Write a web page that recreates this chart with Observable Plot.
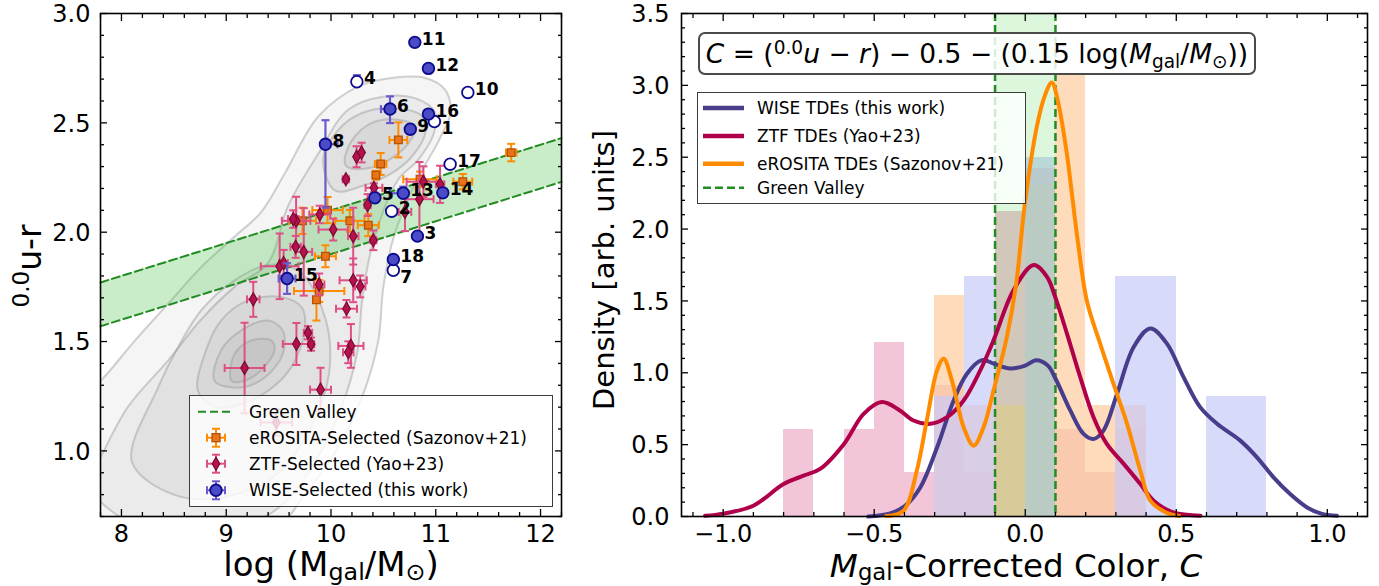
<!DOCTYPE html>
<html>
<head>
<meta charset="utf-8">
<script src="https://cdn.jsdelivr.net/npm/d3@7"></script>
<script src="https://cdn.jsdelivr.net/npm/@observablehq/plot@0.6"></script>
<style>
  html, body { margin: 0; padding: 0; background: #fff; }
  #fig { position: relative; width: 1379px; height: 586px; overflow: hidden;
         font-family: "DejaVu Sans", sans-serif; color: #000; }
  #left, #right { position: absolute; top: 0; }
  #left { left: 0; } #right { left: 580px; }
  .txt { position: absolute; white-space: nowrap; line-height: 1; }
  .txt sub { font-size: 0.7em; vertical-align: -0.15em; line-height: 0; }
  .txt sup { font-size: 0.7em; vertical-align: 0.5em; line-height: 0; }
  .xlab { line-height: 0.5; }
  .legend { position: absolute; box-sizing: border-box; background: rgba(255,255,255,0.8);
            border: 1px solid #3c3c3c; }
  .legend svg { position: absolute; left: 0; top: 0; }
  .legend .row { position: absolute; font-size: 17px; white-space: nowrap; line-height: 1;
                 transform: translateY(-50%); }
  #formula { position: absolute; left: 698px; top: 32px; width: 558px; height: 43px; box-sizing: border-box;
             border: 2px solid #4a4a4a; border-radius: 7px; background: rgba(255,255,255,0.85);
             font-size: 26.5px; line-height: 39px; text-align: center; white-space: nowrap; }
  #formula sub { font-size: 0.7em; vertical-align: -0.28em; line-height: 0; }
  #formula sup { font-size: 0.7em; vertical-align: 0.5em; line-height: 0; }
</style>
</head>
<body>
<div id="fig">
  <div id="left"></div>
  <div id="right"></div>

  <div class="txt xlab" style="left:331px; top:556px; font-size:34px; transform:translateX(-50%);">log (M<sub>gal</sub>/M<sub>&#x2299;</sub>)</div>
  <div class="txt" style="left:29px; top:266px; font-size:33px; transform:translate(-50%,-50%) rotate(-90deg);"><sup>0.0</sup>u-r</div>
  <div class="txt xlab" style="left:1016px; top:557.5px; font-size:32.5px; transform:translateX(-50%);"><i>M</i><sub>gal</sub>-Corrected Color, <i>C</i></div>
  <div class="txt" style="left:604px; top:270px; font-size:29px; transform:translate(-50%,-50%) rotate(-90deg);">Density [arb. units]</div>

  <div id="formula"><i>C</i> = (<sup>0.0</sup><i>u</i> &#x2212; <i>r</i>) &#x2212; 0.5 &#x2212; (0.15 log(<i>M</i><sub>gal</sub>/<i>M</i><sub>&#x2299;</sub>))</div>

  <div class="legend" id="legL" style="left:189px; top:395px; width:364px; height:112px;">
    <svg width="60" height="112">
      <line x1="8" x2="44" y1="15.7" y2="15.7" stroke="#228b22" stroke-width="2" stroke-dasharray="8,4"/>
      <g stroke="#ff8c00" stroke-width="2">
        <line x1="17" x2="35" y1="41.7" y2="41.7"/><line x1="26" x2="26" y1="32.7" y2="50.7"/>
        <line x1="17" x2="17" y1="37.7" y2="45.7"/><line x1="35" x2="35" y1="37.7" y2="45.7"/>
        <line x1="22" x2="30" y1="32.7" y2="32.7"/><line x1="22" x2="30" y1="50.7" y2="50.7"/>
      </g>
      <rect x="22" y="37.7" width="8" height="8" fill="#e8731a" stroke="#b35400" stroke-width="1.3"/>
      <g stroke="#de4f86" stroke-width="2">
        <line x1="17" x2="35" y1="67.7" y2="67.7"/><line x1="26" x2="26" y1="58.7" y2="76.7"/>
        <line x1="17" x2="17" y1="63.7" y2="71.7"/><line x1="35" x2="35" y1="63.7" y2="71.7"/>
        <line x1="22" x2="30" y1="58.7" y2="58.7"/><line x1="22" x2="30" y1="76.7" y2="76.7"/>
      </g>
      <path d="M26,61.2 L29.8,67.7 L26,74.2 L22.2,67.7 Z" fill="#b3124e" stroke="#7d0833" stroke-width="1.2"/>
      <g stroke="#6a5acd" stroke-width="2">
        <line x1="17" x2="35" y1="94.3" y2="94.3"/><line x1="26" x2="26" y1="85.3" y2="103.3"/>
        <line x1="17" x2="17" y1="90.3" y2="98.3"/><line x1="35" x2="35" y1="90.3" y2="98.3"/>
        <line x1="22" x2="30" y1="85.3" y2="85.3"/><line x1="22" x2="30" y1="103.3" y2="103.3"/>
      </g>
      <circle cx="26" cy="94.3" r="5.8" fill="#4b4bc8" stroke="#0b0b8c" stroke-width="1.8"/>
    </svg>
    <div class="row" style="left:59px; top:15.7px;">Green Valley</div>
    <div class="row" style="left:59px; top:41.7px;">eROSITA-Selected (Sazonov+21)</div>
    <div class="row" style="left:59px; top:67.7px;">ZTF-Selected (Yao+23)</div>
    <div class="row" style="left:59px; top:94.3px;">WISE-Selected (this work)</div>
  </div>

  <div class="legend" id="legR" style="left:697px; top:92px; width:329px; height:112px;">
    <svg width="60" height="112">
      <line x1="5" x2="46" y1="15" y2="15" stroke="#483d8b" stroke-width="4.5"/>
      <line x1="5" x2="46" y1="43" y2="43" stroke="#b0004a" stroke-width="4.5"/>
      <line x1="5" x2="46" y1="70.7" y2="70.7" stroke="#ff8c00" stroke-width="4.5"/>
      <line x1="5" x2="46" y1="94.7" y2="94.7" stroke="#228b22" stroke-width="2.5" stroke-dasharray="8,4"/>
    </svg>
    <div class="row" style="left:59px; top:15px;">WISE TDEs (this work)</div>
    <div class="row" style="left:59px; top:43px;">ZTF TDEs (Yao+23)</div>
    <div class="row" style="left:59px; top:70.7px;">eROSITA TDEs (Sazonov+21)</div>
    <div class="row" style="left:59px; top:94.7px;">Green Valley</div>
  </div>
</div>

<script>
// ---------------- Left panel: host colour vs. stellar mass ----------------

// WISE-selected TDE hosts (this work); open symbols are not in the colour histogram
const wiseId      = [1, 2, 3, 4, 5, 6, 7, 8, 9, 10, 11, 12, 13, 14, 15, 16, 17, 18];
const wiseMass    = [10.987, 10.579, 10.825, 10.247, 10.419, 10.563, 10.595, 9.947, 10.757, 11.306, 10.80, 10.93, 10.69, 11.067, 9.581, 10.93, 11.137, 10.595];
const wiseColor   = [2.506, 2.096, 1.982, 2.688, 2.157, 2.563, 1.826, 2.402, 2.471, 2.639, 2.868, 2.749, 2.178, 2.18, 1.788, 2.54, 2.311, 1.875];
const wiseFilled  = [false, false, true, false, true, true, false, true, true, false, true, true, true, true, true, true, false, true];
const wiseMassLo  = [0, 0, 0, 0, 0, 0.086, 0, 0, 0.03, 0, 0, 0, 0.13, 0, 0.08, 0, 0, 0];
const wiseMassHi  = [0, 0, 0, 0, 0, 0.048, 0, 0.115, 0.03, 0, 0, 0, 0, 0, 0.08, 0, 0, 0];
const wiseColorLo = [0, 0, 0, 0, 0, 0.064, 0, 0.29, 0.02, 0, 0, 0, 0, 0, 0.07, 0, 0, 0];
const wiseColorHi = [0, 0, 0, 0.03, 0, 0.058, 0, 0.11, 0.02, 0, 0, 0, 0.03, 0, 0.07, 0, 0, 0];

// ZTF-selected TDE hosts (Yao+23)
const ztfMass     = [10.244, 10.292, 10.142, 10.41, 10.349, 10.882, 11.041, 10.844, 10.706, 9.893, 9.667, 10.021, 10.212, 10.404, 9.663, 9.74, 9.51, 9.548, 9.258, 9.175, 9.67, 9.78, 9.81, 10.148, 9.9, 9.887, 10.212, 10.279, 10.19, 10.165, 9.478, 9.64];
const ztfColor    = [2.345, 2.364, 2.242, 2.203, 2.124, 2.231, 2.219, 2.151, 2.093, 2.081, 2.052, 2.012, 1.982, 1.963, 1.933, 1.91, 1.844, 1.859, 1.693, 1.379, 1.489, 1.54, 1.488, 1.65, 1.28, 1.761, 1.78, 1.752, 1.48, 1.451, 1.13, 2.06];
const ztfMassErr  = [0, 0, 0.03, 0.08, 0.03, 0.16, 0.04, 0.135, 0.06, 0.1, 0.136, 0.14, 0.05, 0.03, 0.05, 0.08, 0.18, 0.04, 0.06, 0.19, 0.13, 0.04, 0.03, 0.1, 0.1, 0.05, 0.13, 0.05, 0.12, 0.05, 0.15, 0.05];
const ztfColorErr = [0.048, 0.045, 0, 0.02, 0.05, 0.07, 0.085, 0.17, 0.088, 0.04, 0.11, 0.05, 0.13, 0.045, 0.05, 0.2, 0.15, 0.06, 0.08, 0.207, 0.096, 0.03, 0.03, 0.04, 0.1, 0.05, 0.1, 0.05, 0.1, 0.05, 0.06, 0.04];

// eROSITA-selected TDE hosts (Sazonov+21)
const eroMass     = [10.643, 10.474, 10.429, 10.85, 11.258, 9.967, 9.727, 10.18, 10.356, 9.947, 9.887, 9.861, 11.72];
const eroColor    = [2.422, 2.312, 2.261, 2.242, 2.231, 2.101, 2.052, 2.052, 2.032, 1.89, 1.731, 1.691, 2.364];
const eroMassErr  = [0.085, 0.055, 0.03, 0.16, 0.09, 0.145, 0.13, 0.14, 0.1, 0.1, 0.24, 0.03, 0.05];
const eroColorErr = [0.08, 0.05, 0.02, 0.035, 0.035, 0.06, 0.06, 0.05, 0.05, 0.05, 0.05, 0.095, 0.04];

// Background galaxy density contours (log M, u-r), outermost first
const kdeOuter = [[7.5,1.2],[7.8,1.32],[8.12,1.50],[8.44,1.67],[8.76,1.84],[9.08,1.98],[9.33,2.09],[9.56,2.27],[9.88,2.53],[10.26,2.667],[10.58,2.705],[10.9,2.705],[11.09,2.651],[11.14,2.544],[11.03,2.42],[10.8,2.22],[10.6,1.98],[10.5,1.75],[10.45,1.5],[10.3,1.25],[10.05,1.0],[9.75,0.8],[9.4,0.6],[8.5,0.45],[7.6,0.5]];
const kdeBoth   = [[7.7,0.88],[7.8,0.97],[8.06,1.2],[8.44,1.41],[8.76,1.6],[9.08,1.75],[9.40,1.86],[9.59,2.12],[9.88,2.36],[10.165,2.56],[10.51,2.62],[10.80,2.613],[10.99,2.55],[10.98,2.45],[10.83,2.33],[10.64,2.24],[10.4,1.95],[10.3,1.7],[10.25,1.45],[10.1,1.2],[9.85,0.95],[9.5,0.74],[9.0,0.63],[8.4,0.62],[7.95,0.71],[7.75,0.8]];
const kdeRedA   = [[9.925,2.33],[10.07,2.468],[10.29,2.544],[10.61,2.567],[10.87,2.53],[10.9,2.453],[10.77,2.345],[10.58,2.27],[10.29,2.21],[10.04,2.19]];
const kdeRedB   = [[10.13,2.33],[10.2,2.42],[10.39,2.5],[10.64,2.514],[10.8,2.483],[10.74,2.407],[10.55,2.33],[10.32,2.29],[10.15,2.3]];
const kdeBlueA  = [[8.1,0.95],[8.35,1.29],[8.54,1.474],[8.76,1.642],[9.08,1.78],[9.4,1.85],[9.7,1.82],[9.95,1.6],[9.98,1.35],[9.8,1.1],[9.5,0.9],[9.0,0.79],[8.5,0.8]];
const kdeBlueB  = [[8.73,1.275],[8.8,1.45],[8.95,1.596],[9.21,1.688],[9.53,1.703],[9.72,1.657],[9.75,1.55],[9.62,1.382],[9.4,1.275],[9.14,1.214],[8.9,1.2]];
const kdeBlueC  = [[8.89,1.32],[8.95,1.459],[9.14,1.55],[9.40,1.596],[9.54,1.55],[9.54,1.443],[9.37,1.336],[9.14,1.29]];
const kdeBlueD  = [[9.05,1.32],[9.08,1.443],[9.24,1.505],[9.43,1.505],[9.46,1.459],[9.33,1.367],[9.175,1.321]];

// Green valley: C = (u-r) - 0.5 - 0.15 log M within +/- 0.1
const gvOffset = 0.5, gvSlope = 0.15, gvHalfWidth = 0.1;
const gvMassRange = [7.8, 12.2];

const massTicks  = [8, 9, 10, 11, 12];
const colorTicks = [1.0, 1.5, 2.0, 2.5, 3.0];

// ---------------- Right panel: mass-corrected colour distributions ----------------
const binEdges      = [-0.8, -0.7, -0.6, -0.5, -0.4, -0.3, -0.2, -0.1, 0.0, 0.1, 0.2, 0.3, 0.4, 0.5, 0.6, 0.7, 0.8];
const wiseCounts    = [0, 0, 0, 0, 0, 1, 2, 0, 3, 0, 0, 2, 2, 0, 1, 1];
const ztfCounts     = [2, 0, 2, 4, 1, 3, 1, 7, 8, 2, 1, 2, 0, 0, 0, 0];
const erositaCounts = [0, 0, 0, 0, 0, 2, 1, 1, 3, 4, 1, 1, 0, 0, 0, 0];

// kernel density curves [C, density]
const wiseKde = [[-0.52,0],[-0.45,0.02],[-0.4,0.07],[-0.348,0.2],[-0.292,0.48],[-0.237,0.807],[-0.193,0.993],[-0.144,1.088],[-0.1,1.06],[-0.05,1.03],[0.0,1.05],[0.037,1.088],[0.075,1.05],[0.1,0.96],[0.149,0.738],[0.193,0.575],[0.226,0.54],[0.259,0.598],[0.304,0.854],[0.359,1.179],[0.414,1.308],[0.469,1.203],[0.524,0.97],[0.579,0.761],[0.635,0.645],[0.712,0.528],[0.767,0.412],[0.822,0.272],[0.877,0.156],[0.933,0.063],[0.98,0.02],[1.032,0.005]];
const ztfKde  = [[-1.06,0.005],[-1.0,0.02],[-0.9,0.075],[-0.8,0.226],[-0.734,0.284],[-0.679,0.331],[-0.6,0.505],[-0.535,0.714],[-0.475,0.796],[-0.415,0.738],[-0.37,0.668],[-0.315,0.645],[-0.259,0.691],[-0.204,0.807],[-0.149,1.017],[-0.105,1.226],[-0.039,1.575],[0.028,1.75],[0.072,1.668],[0.099,1.528],[0.138,1.273],[0.182,0.97],[0.226,0.691],[0.27,0.505],[0.326,0.366],[0.381,0.226],[0.425,0.11],[0.491,0.028],[0.58,0.005]];
const eroKde  = [[-0.46,0.003],[-0.403,0.04],[-0.359,0.319],[-0.326,0.668],[-0.292,1.017],[-0.27,1.098],[-0.243,0.947],[-0.204,0.621],[-0.171,0.493],[-0.138,0.621],[-0.105,0.877],[-0.061,1.249],[-0.03,1.62],[0.0,2.2],[0.039,2.72],[0.065,2.93],[0.088,3.02],[0.107,2.9],[0.136,2.55],[0.157,2.2],[0.175,1.9],[0.204,1.5],[0.248,1.203],[0.292,0.924],[0.337,0.645],[0.381,0.319],[0.414,0.11],[0.464,0.03],[0.51,0.003]];

const gvColorRange = [-0.1, 0.1];
const densityTicks = [0.0, 0.5, 1.0, 1.5, 2.0, 2.5, 3.0, 3.5];
const corrTicks    = [-1.0, -0.5, 0.0, 0.5, 1.0];

// ---------------- helpers ----------------
const BLACK = "#000";
const TICK_FONT = 24;
const fmt1 = d => (d < 0 ? "\u2212" : "") + Math.abs(d).toFixed(1);
const capH = {draw(ctx, size) { const r = Math.sqrt(size / Math.PI); ctx.moveTo(-r, 0); ctx.lineTo(r, 0); }};
const capV = {draw(ctx, size) { const r = Math.sqrt(size / Math.PI); ctx.moveTo(0, -r); ctx.lineTo(0, r); }};

function frameAxes(xMajor, xMinor, yMajor, yMinor, xFmt, yFmt, yPad) {
  const tickStyle = {stroke: BLACK, strokeWidth: 1.3, label: null, tickFormat: () => ""};
  return [
    Plot.frame({stroke: BLACK, strokeWidth: 1.6}),
    Plot.axisX(xMajor, {...tickStyle, anchor: "bottom", tickSize: -7}),
    Plot.axisX(xMajor, {...tickStyle, anchor: "top", tickSize: -7}),
    Plot.axisX(xMinor, {...tickStyle, anchor: "bottom", tickSize: -4}),
    Plot.axisX(xMinor, {...tickStyle, anchor: "top", tickSize: -4}),
    Plot.axisY(yMajor, {...tickStyle, anchor: "left", tickSize: -7}),
    Plot.axisY(yMajor, {...tickStyle, anchor: "right", tickSize: -7}),
    Plot.axisY(yMinor, {...tickStyle, anchor: "left", tickSize: -4}),
    Plot.axisY(yMinor, {...tickStyle, anchor: "right", tickSize: -4}),
    Plot.axisX(xMajor, {anchor: "bottom", tickSize: 0, tickPadding: 8, tickFormat: xFmt, label: null, fontSize: TICK_FONT, fill: BLACK}),
    Plot.axisY(yMajor, {anchor: "left", tickSize: 0, tickPadding: yPad, tickFormat: yFmt, label: null, fontSize: TICK_FONT, fill: BLACK, dy: 1})
  ];
}

function errorBars(rows, color, width) {
  const opts = {stroke: color, strokeWidth: width};
  const capOpts = {...opts, fill: "none", r: 4};
  return [
    Plot.ruleY(rows.filter(d => d.mLo + d.mHi > 0), {...opts, y: "v", x1: d => d.m - d.mLo, x2: d => d.m + d.mHi}),
    Plot.ruleX(rows.filter(d => d.vLo + d.vHi > 0), {...opts, x: "m", y1: d => d.v - d.vLo, y2: d => d.v + d.vHi}),
    Plot.dot(rows.filter(d => d.mLo > 0), {...capOpts, symbol: capV, x: d => d.m - d.mLo, y: "v"}),
    Plot.dot(rows.filter(d => d.mHi > 0), {...capOpts, symbol: capV, x: d => d.m + d.mHi, y: "v"}),
    Plot.dot(rows.filter(d => d.vLo > 0), {...capOpts, symbol: capH, x: "m", y: d => d.v - d.vLo}),
    Plot.dot(rows.filter(d => d.vHi > 0), {...capOpts, symbol: capH, x: "m", y: d => d.v + d.vHi})
  ];
}

// ---------------- tables ----------------
const wise = wiseId.map((id, i) => ({id, m: wiseMass[i], v: wiseColor[i], filled: wiseFilled[i],
  mLo: wiseMassLo[i], mHi: wiseMassHi[i], vLo: wiseColorLo[i], vHi: wiseColorHi[i]}));
const ztf = ztfMass.map((m, i) => ({m, v: ztfColor[i], mLo: ztfMassErr[i], mHi: ztfMassErr[i], vLo: ztfColorErr[i], vHi: ztfColorErr[i]}));
const ero = eroMass.map((m, i) => ({m, v: eroColor[i], mLo: eroMassErr[i], mHi: eroMassErr[i], vLo: eroColorErr[i], vHi: eroColorErr[i]}));

const contours = [kdeOuter, kdeBoth, kdeRedA, kdeRedB, kdeBlueA, kdeBlueB, kdeBlueC, kdeBlueD]
  .flatMap((pts, k) => pts.map(([m, v]) => ({k, m, v})));

const massMinor  = d3.range(7.8, 12.21, 0.2).filter(t => Math.abs(t - Math.round(t)) > 1e-6);
const colorMinor = d3.range(0.7, 3.001, 0.1).filter(t => Math.abs(t * 2 - Math.round(t * 2)) > 1e-6);
const labelBelow = d => d.id === 1 || d.id === 7;

const left = Plot.plot({
  width: 580, height: 586,
  marginLeft: 100, marginRight: 19, marginTop: 13, marginBottom: 70,
  x: {domain: [7.8, 12.2]},
  y: {domain: [0.7, 3.0]},
  style: {fontFamily: "DejaVu Sans", background: "transparent", color: BLACK},
  marks: [
    Plot.line(contours, {x: "m", y: "v", z: "k", curve: "catmull-rom-closed", fill: "#000", fillOpacity: 0.04,
      stroke: "#9a9a9a", strokeOpacity: 0.45, strokeWidth: 2, clip: true}),
    Plot.areaY(gvMassRange, {x: d => d, y1: d => gvOffset - gvHalfWidth + gvSlope * d, y2: d => gvOffset + gvHalfWidth + gvSlope * d,
      fill: "#4cc04c", fillOpacity: 0.3}),
    Plot.line(gvMassRange, {x: d => d, y: d => gvOffset + gvHalfWidth + gvSlope * d, stroke: "#228b22", strokeWidth: 2, strokeDasharray: "8,4"}),
    Plot.line(gvMassRange, {x: d => d, y: d => gvOffset - gvHalfWidth + gvSlope * d, stroke: "#228b22", strokeWidth: 2, strokeDasharray: "8,4"}),
    ...errorBars(ero, "#ff8c00", 2),
    Plot.dot(ero, {x: "m", y: "v", symbol: "square", r: 4.3, fill: "#e8731a", stroke: "#b35400", strokeWidth: 1.3}),
    ...errorBars(ztf, "#de4f86", 2),
    Plot.dot(ztf, {x: "m", y: "v", symbol: "diamond", r: 4, fill: "#b3124e", stroke: "#7d0833", strokeWidth: 1.2}),
    ...errorBars(wise, "#6a5acd", 2.2),
    Plot.dot(wise, {x: "m", y: "v", symbol: "circle", r: 5.8, fill: d => d.filled ? "#4b4bc8" : "#ffffff", stroke: "#0b0b8c", strokeWidth: 1.8}),
    Plot.text(wise.filter(d => !labelBelow(d)), {x: "m", y: "v", text: d => String(d.id), dx: 7, dy: -3,
      textAnchor: "start", fontWeight: "bold", fontSize: 17, fill: BLACK}),
    Plot.text(wise.filter(labelBelow), {x: "m", y: "v", text: d => String(d.id), dx: 7, dy: 7.5,
      textAnchor: "start", fontWeight: "bold", fontSize: 17, fill: BLACK}),
    ...frameAxes(massTicks, massMinor, colorTicks, colorMinor, d => String(d), d => d.toFixed(1), 10)
  ]
});
document.getElementById("left").append(left);

// ---------------- right panel ----------------
function histRows(counts) {
  const n = d3.sum(counts);
  return counts.map((c, i) => ({x1: binEdges[i], x2: binEdges[i + 1], y: c / (n * (binEdges[i + 1] - binEdges[i]))}))
    .filter(d => d.y > 0);
}
const corrMinor = d3.range(-1.1, 1.101, 0.1).filter(t => Math.abs(t * 2 - Math.round(t * 2)) > 1e-6);
const densMinor = d3.range(0, 3.501, 0.1).filter(t => Math.abs(t * 2 - Math.round(t * 2)) > 1e-6);
const barStyle = {x1: "x1", x2: "x2", y: "y", fillOpacity: 0.7, shapeRendering: "crispEdges"};

const right = Plot.plot({
  width: 799, height: 586,
  marginLeft: 101, marginRight: 12, marginTop: 13, marginBottom: 70,
  x: {domain: [-1.138, 1.133]},
  y: {domain: [0, 3.5]},
  style: {fontFamily: "DejaVu Sans", background: "transparent", color: BLACK},
  marks: [
    Plot.rectY(histRows(ztfCounts), {...barStyle, fill: "#ecaec7"}),
    Plot.rectY(histRows(erositaCounts), {...barStyle, fill: "#fecc9e"}),
    Plot.rectY(histRows(wiseCounts), {...barStyle, fill: "#c7caf8"}),
    Plot.rect([gvColorRange], {x1: d => d[0], x2: d => d[1], y1: () => 0, y2: () => 3.5, fill: "#32cd32", fillOpacity: 0.17, shapeRendering: "crispEdges"}),
    Plot.ruleX(gvColorRange, {stroke: "#228b22", strokeWidth: 2.5, strokeDasharray: "8,4"}),
    Plot.line(wiseKde, {x: d => d[0], y: d => d[1], stroke: "#483d8b", strokeWidth: 4, curve: "catmull-rom"}),
    Plot.line(ztfKde, {x: d => d[0], y: d => d[1], stroke: "#b0004a", strokeWidth: 4, curve: "catmull-rom"}),
    Plot.line(eroKde, {x: d => d[0], y: d => d[1], stroke: "#ff8c00", strokeWidth: 4, curve: "catmull-rom"}),
    ...frameAxes(corrTicks, corrMinor, densityTicks, densMinor, fmt1, d => d.toFixed(1), 12)
  ]
});
document.getElementById("right").append(right);
</script>
</body>
</html>
